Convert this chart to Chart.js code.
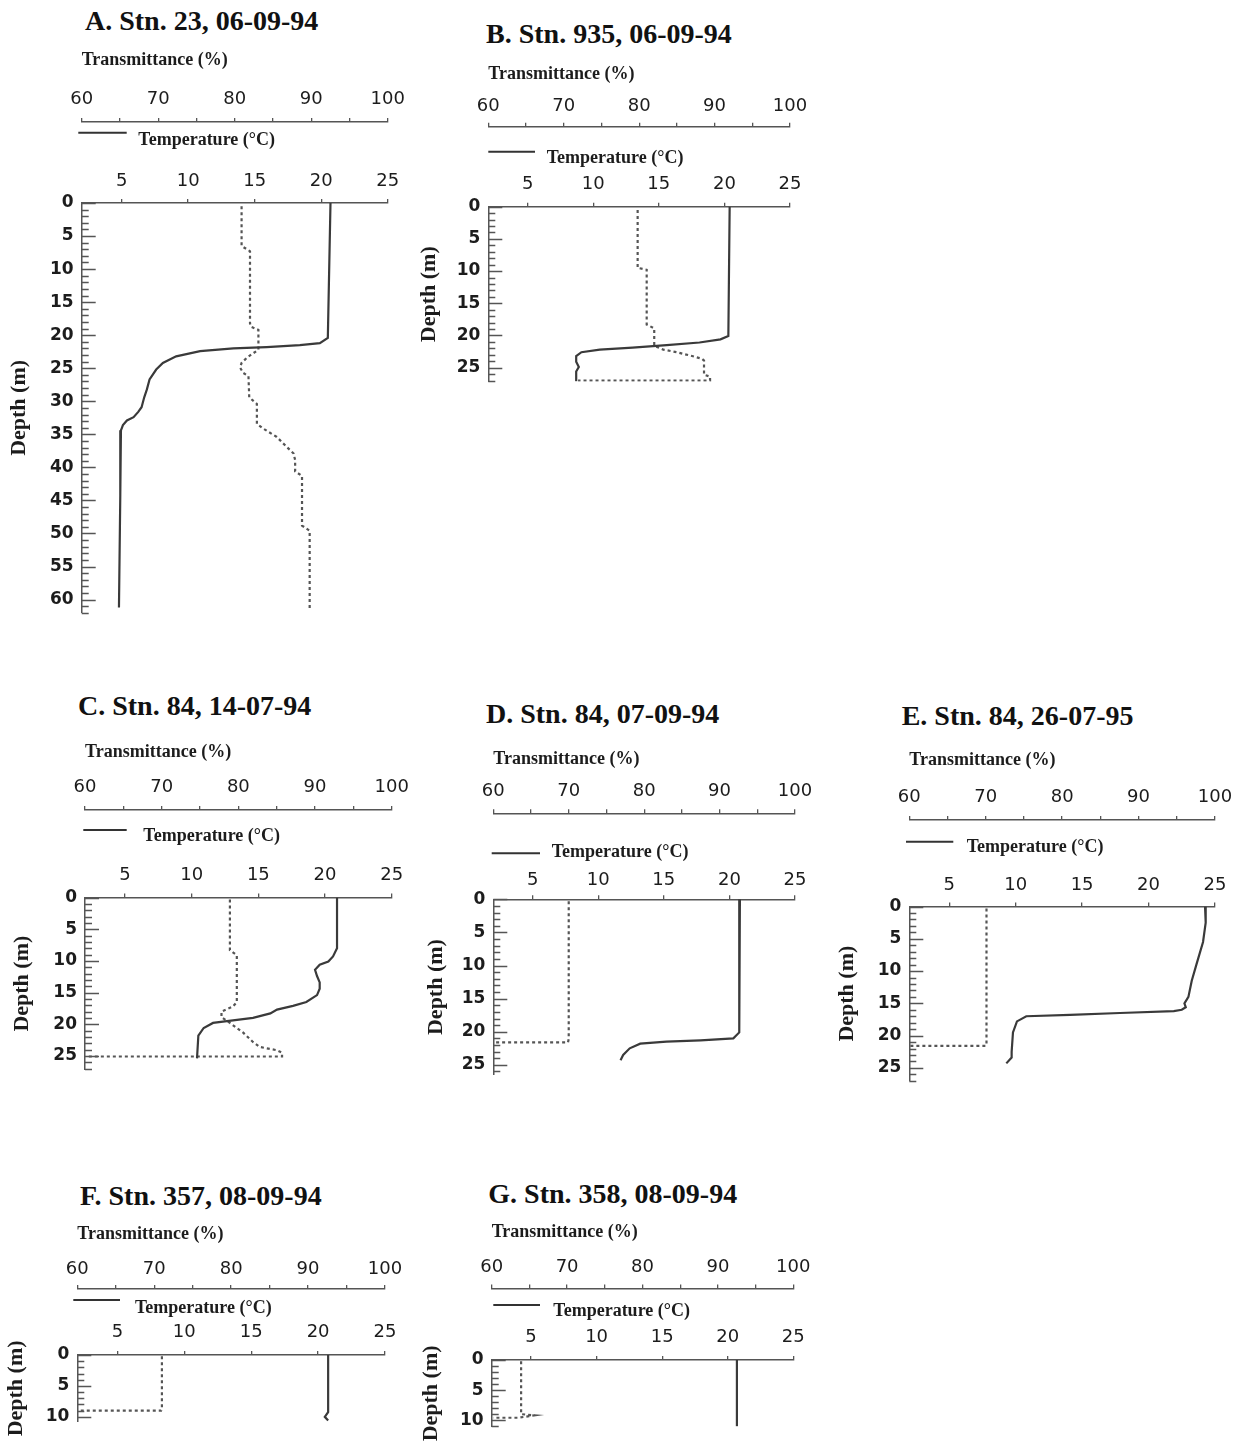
<!DOCTYPE html>
<html>
<head>
<meta charset="utf-8">
<script src="https://cdn.jsdelivr.net/npm/chart.js@4.4.1/dist/chart.umd.min.js"></script>
<style>
  body { margin: 0; background: #fff; width: 1245px; height: 1453px; position: relative; overflow: hidden; }
  canvas { position: absolute; }
  .ptitle { position: absolute; font: bold 28px "Liberation Serif", "Times New Roman", serif; line-height: 28px; white-space: nowrap; color: #111; }
</style>
</head>
<body>
<script>
// axis ticks
const tempTicks = [5, 10, 15, 20, 25];
const transTicks = [60, 65, 70, 75, 80, 85, 90, 95, 100];
const depthTicks = [0, 5, 10, 15, 20, 25, 30, 35, 40, 45, 50, 55, 60];

// A. Stn. 23, 06-09-94
const depthA_t = [0, 20.4, 21.2, 21.5, 21.8, 22.0, 22.4, 23.2, 24.2, 25.2, 26.7, 28.2, 29.4, 30.9, 31.6, 32.4, 32.9, 33.6, 34.4, 44.3, 61.2];
const tempA    = [20.7, 20.5, 19.9, 18.4, 15.9, 13.4, 10.9, 9.1, 8.1, 7.6, 7.1, 6.9, 6.7, 6.5, 6.25, 5.9, 5.4, 5.1, 4.95, 4.9, 4.8];
const depthA_r = [0.5, 6.5, 7.3, 18.2, 18.7, 19.2, 22.2, 22.9, 23.4, 24.2, 24.9, 25.7, 26.2, 29.4, 29.9, 30.4, 33.4, 34.1, 35.4, 36.9, 37.9, 38.9, 40.6, 41.3, 48.8, 49.6, 61.7];
const transA   = [80.9, 80.9, 82.0, 82.0, 82.1, 83.1, 83.1, 82.2, 81.6, 80.9, 80.7, 81.1, 81.8, 81.9, 82.4, 82.9, 82.9, 83.7, 85.5, 86.8, 87.7, 87.9, 87.9, 88.8, 88.8, 89.8, 89.8];

// B. Stn. 935, 06-09-94
const depthB_t = [0, 20.1, 20.6, 21.1, 21.5, 21.9, 22.2, 22.6, 23.2, 24.1, 24.9, 25.6, 27.1];
const tempB    = [20.4, 20.3, 19.7, 18.1, 15.6, 13.0, 10.5, 9.1, 8.7, 8.7, 8.9, 8.7, 8.7];
const depthB_r = [0.5, 9.5, 9.8, 18.3, 18.9, 21.6, 22.2, 22.6, 23.2, 23.6, 23.9, 26.1, 26.4, 27.0, 27.0];
const transB   = [79.8, 79.8, 81.0, 81.0, 82.0, 82.0, 83.2, 85.0, 87.0, 88.3, 88.6, 88.6, 89.4, 89.4, 71.9];

// C. Stn. 84, 14-07-94
const depthC_t = [0, 8.0, 9.3, 10.1, 10.6, 11.4, 12.4, 13.4, 14.4, 15.4, 16.5, 17.1, 17.7, 18.3, 19.0, 19.4, 19.8, 20.6, 21.8, 25.4];
const tempC    = [20.9, 20.9, 20.6, 20.25, 19.6, 19.25, 19.4, 19.6, 19.6, 19.4, 18.6, 17.6, 16.4, 15.9, 14.6, 13.1, 11.6, 10.9, 10.5, 10.4];
const depthC_r = [0.3, 8.3, 9.1, 16.5, 17.2, 18.0, 18.9, 19.8, 21.3, 22.8, 23.6, 24.1, 24.5, 25.1, 25.1];
const transC   = [78.9, 78.9, 79.8, 79.8, 79.3, 77.8, 77.8, 78.9, 80.6, 81.9, 82.8, 85.0, 85.7, 85.7, 60.4];

// D. Stn. 84, 07-09-94
const depthD_t = [0, 20.1, 21.0, 21.3, 21.5, 21.8, 22.5, 23.5, 24.3];
const tempD    = [20.8, 20.75, 20.3, 17.8, 15.2, 13.2, 12.4, 11.9, 11.7];
const depthD_r = [0.3, 21.1, 21.6, 21.6];
const transD   = [70.0, 70.0, 69.9, 60.2];

// E. Stn. 84, 26-07-95
const depthE_t = [0, 2.5, 5.5, 9.0, 11.5, 14.0, 15.0, 15.6, 16.0, 16.2, 16.5, 16.8, 17.0, 17.8, 19.5, 22.5, 23.4, 24.3];
const tempE    = [24.25, 24.3, 24.1, 23.6, 23.25, 23.0, 22.7, 22.8, 22.5, 21.9, 17.85, 14.1, 10.8, 10.1, 9.8, 9.7, 9.7, 9.3];
const depthE_r = [0.3, 21.3, 21.6, 21.6];
const transE   = [70.1, 70.1, 70.0, 60.1];

// F. Stn. 357, 08-09-94
const depthF_t = [0, 9.25, 10.0, 10.6];
const tempF    = [20.75, 20.75, 20.5, 20.75];
const depthF_r = [0.2, 8.75, 9.0, 9.0];
const transF   = [71.0, 71.0, 70.9, 60.35];

// G. Stn. 358, 08-09-94
const depthG_t = [0, 11.0];
const tempG    = [20.7, 20.7];
const depthG_r = [0.2, 9.0, 9.2, 9.6, 9.6];
const transG   = [63.9, 63.9, 65.7, 63.5, 60.2];

// where each panel sits on the page
const panels = [
  { title: 'A. Stn. 23, 06-09-94', tx: 85, tb: 30, L: 81.7, R: 387.7, yT: 122, cTl: 99.2, cTt: 60.6, yC: 203, cCl: 181.7, cCt: 140.6, ctX: 138.3, legY: 132.7, legX0: 78.3, legX1: 126.7, cDt: 19.6, ppm: 6.7, maxD: 62, dt: depthA_t, t: tempA, dr: depthA_r, r: transA },
  { title: 'B. Stn. 935, 06-09-94', tx: 486, tb: 43.3, L: 488.3, R: 790, yT: 126.7, cTl: 106.7, cTt: 73.9, yC: 206.7, cCl: 184.2, cCt: 157.9, ctX: 546.7, legY: 151.7, legX0: 488.3, legX1: 535, cDt: 429.6, ppm: 6.63, maxD: 27.2, dt: depthB_t, t: tempB, dr: depthB_r, r: transB },
  { title: 'C. Stn. 84, 14-07-94', tx: 78, tb: 715, L: 85, R: 391.7, yT: 810, cTl: 787.5, cTt: 752.2, yC: 897.5, cCl: 875, cCt: 836.6, ctX: 143.3, legY: 830, legX0: 83.3, legX1: 126.7, cDt: 22.8, ppm: 6.53, maxD: 27.2, dt: depthC_t, t: tempC, dr: depthC_r, r: transC },
  { title: 'D. Stn. 84, 07-09-94', tx: 486, tb: 723, L: 493.3, R: 795, yT: 813.3, cTl: 791.7, cTt: 758.9, yC: 899.3, cCl: 880, cCt: 852.5, ctX: 551.7, legY: 853.3, legX0: 491.7, legX1: 540, cDt: 436, ppm: 6.83, maxD: 26.5, dt: depthD_t, t: tempD, dr: depthD_r, r: transD },
  { title: 'E. Stn. 84, 26-07-95', tx: 901.7, tb: 725, L: 909.3, R: 1215, yT: 820, cTl: 797.5, cTt: 759.9, yC: 906.5, cCl: 885, cCt: 847.2, ctX: 966.7, legY: 841.7, legX0: 906, legX1: 953.3, cDt: 847.8, ppm: 6.67, maxD: 27, dt: depthE_t, t: tempE, dr: depthE_r, r: transE },
  { title: 'F. Stn. 357, 08-09-94', tx: 80, tb: 1205, L: 77.3, R: 385, yT: 1289, cTl: 1269.2, cTt: 1233.9, yC: 1355, cCl: 1332.5, cCt: 1307.9, ctX: 135, legY: 1300, legX0: 73.3, legX1: 120, cDt: 16.2, ppm: 6.67, maxD: 10.8, dt: depthF_t, t: tempF, dr: depthF_r, r: transF },
  { title: 'G. Stn. 358, 08-09-94', tx: 488.3, tb: 1203.3, L: 491.7, R: 793.3, yT: 1288.5, cTl: 1267.5, cTt: 1232.2, yC: 1360, cCl: 1337.5, cCt: 1311.2, ctX: 553.3, legY: 1305, legX0: 493.3, legX1: 540, cDt: 431.2, ppm: 6.5, maxD: 11.1, dt: depthG_t, t: tempG, dr: depthG_r, r: transG }
];

const SERIF = '"Liberation Serif", "Times New Roman", serif';
const axisColor = '#555';
const textColor = '#1c1c1c';
const tickSize = 18;
Chart.defaults.font.family = '"DejaVu Sans", sans-serif';
Chart.defaults.color = textColor;

// depth ruler ticks (drawn inward) + "—— Temperature (°C)" legend
const panelDecor = {
  id: 'panelDecor',
  afterDraw(chart, args, o) {
    const ctx = chart.ctx;
    const ys = chart.scales.y;
    ctx.save();
    ctx.strokeStyle = axisColor;
    ctx.lineWidth = 1.3;
    ctx.beginPath();
    for (let d = 0; d <= ys.max; d++) {
      const py = Math.round(ys.getPixelForValue(d)) + 0.5;
      ctx.moveTo(ys.right, py);
      ctx.lineTo(ys.right + (d % 5 === 0 ? 14 : 7), py);
    }
    ctx.stroke();

    ctx.strokeStyle = '#333';
    ctx.lineWidth = 2;
    ctx.beginPath();
    ctx.moveTo(o.x0, o.ly);
    ctx.lineTo(o.x1, o.ly);
    ctx.stroke();

    ctx.fillStyle = textColor;
    ctx.font = 'bold 18px ' + SERIF;
    ctx.textBaseline = 'middle';
    ctx.textAlign = 'left';
    ctx.fillText('Temperature (\u00B0C)', o.tx, o.ty);
    ctx.restore();
  }
};

panels.forEach(p => {
  const left = Math.round(p.cDt - 20);
  const top = Math.round(p.cTt - 20);
  const bottom = p.yC + p.maxD * p.ppm;
  const w = Math.ceil(p.R + 25 - left);
  const h = Math.ceil(bottom + 12 - top);
  const halfLbl = tickSize * 1.2 / 2;

  const t = document.createElement('div');
  t.className = 'ptitle';
  t.textContent = p.title;
  t.style.left = p.tx + 'px';
  t.style.top = (p.tb - 23.5) + 'px';
  document.body.appendChild(t);

  const cv = document.createElement('canvas');
  cv.width = w; cv.height = h;
  cv.style.left = left + 'px'; cv.style.top = top + 'px';
  cv.style.width = w + 'px'; cv.style.height = h + 'px';
  document.body.appendChild(cv);

  const tempData = p.dt.map((d, i) => ({ x: p.t[i], y: d }));
  const transData = p.dr.map((d, i) => ({ x: p.r[i], y: d }));

  new Chart(cv.getContext('2d'), {
    type: 'scatter',
    data: {
      datasets: [
        { label: 'Temperature (\u00B0C)', data: tempData, xAxisID: 'x', yAxisID: 'y', showLine: true,
          borderColor: '#3a3a3a', borderWidth: 2.2, pointRadius: 0, tension: 0 },
        { label: 'Transmittance (%)', data: transData, xAxisID: 'xT', yAxisID: 'y', showLine: true,
          borderColor: '#555', borderWidth: 2.2, borderDash: [3, 3], pointRadius: 0, tension: 0 }
      ]
    },
    options: {
      responsive: false,
      animation: false,
      events: [],
      layout: { padding: { left: 0, top: 0, right: w - (p.R - left), bottom: h - (bottom - top) } },
      plugins: {
        legend: { display: false },
        tooltip: { enabled: false },
        panelDecor: { x0: p.legX0 - left, x1: p.legX1 - left, ly: p.legY - top, tx: p.ctX - left, ty: p.cCt - top }
      },
      scales: {
        xT: {
          type: 'linear', position: 'top', weight: 1, min: 60, max: 100,
          afterBuildTicks: s => { s.ticks = transTicks.map(v => ({ value: v })); },
          afterFit: s => { s.height = p.yT - top; },
          grid: { drawOnChartArea: false, drawTicks: true, tickLength: 4, color: axisColor, lineWidth: 1.3 },
          border: { display: true, color: axisColor, width: 1.5 },
          ticks: { padding: p.yT - p.cTl - halfLbl - 4, autoSkip: false, maxRotation: 0, font: { size: tickSize },
                   callback: v => (v % 10 === 0 ? String(v) : '') },
          title: { display: true, text: 'Transmittance (%)', align: 'start', color: textColor,
                   font: { family: SERIF, size: 18, weight: 'bold' },
                   padding: { top: p.cTt - top - 10.8, bottom: 0 } }
        },
        x: {
          type: 'linear', position: 'top', weight: 0, min: 2, max: 25,
          afterBuildTicks: s => { s.ticks = tempTicks.map(v => ({ value: v })); },
          afterFit: s => { s.height = p.yC - p.yT; },
          grid: { drawOnChartArea: false, drawTicks: true, tickLength: 4, color: axisColor, lineWidth: 1.3 },
          border: { display: true, color: axisColor, width: 1.5 },
          ticks: { padding: p.yC - p.cCl - halfLbl - 4, autoSkip: false, maxRotation: 0, font: { size: tickSize } }
        },
        y: {
          type: 'linear', position: 'left', reverse: true, min: 0, max: p.maxD,
          afterBuildTicks: s => { s.ticks = depthTicks.filter(v => v <= p.maxD).map(v => ({ value: v })); },
          afterFit: s => { s.width = p.L - left; },
          grid: { display: true, drawOnChartArea: false, drawTicks: false },
          border: { display: true, color: axisColor, width: 1.5 },
          ticks: { padding: 8, autoSkip: false, font: { size: 17, weight: 'bold' } },
          title: { display: true, text: 'Depth (m)', color: textColor,
                   font: { family: SERIF, size: 22, weight: 'bold' },
                   padding: { top: p.cDt - left - 13.2, bottom: 0 } }
        }
      }
    },
    plugins: [panelDecor]
  });
});
</script>
</body>
</html>
